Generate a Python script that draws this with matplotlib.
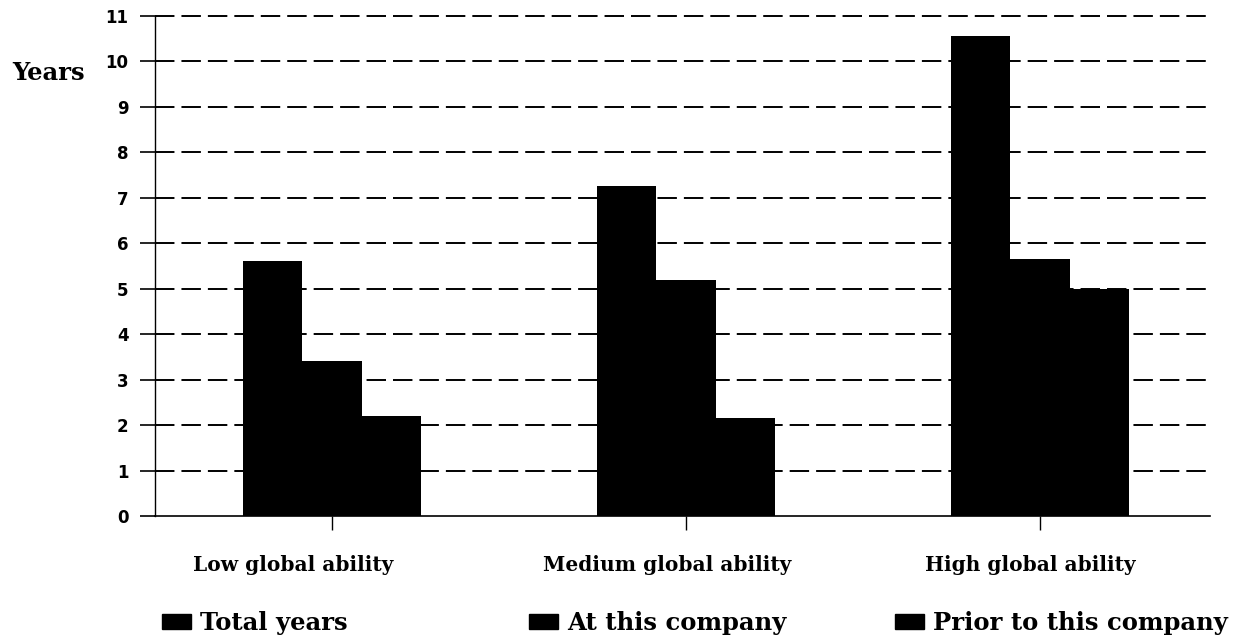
import matplotlib
matplotlib.use('Agg')
import matplotlib.pyplot as plt
from matplotlib.patches import Patch
from matplotlib.transforms import ScaledTranslation

# years of experience by global ability group
groups = ['Low global ability', 'Medium global ability', 'High global ability']
total_years = [5.6, 7.25, 10.55]
at_company = [3.4, 5.2, 5.65]
prior_company = [2.2, 2.15, 5.0]
series_names = ['Total years', 'At this company', 'Prior to this company']
y_ticks = list(range(0, 12))

serif = 'DejaVu Serif'
sans = 'DejaVu Sans'

fig = plt.figure(figsize=(12.46, 6.39), dpi=100)
ax = fig.add_axes([155 / 1246, 1 - 516 / 639, 1062 / 1246, 500 / 639])

bar_w = 0.168
x = range(len(groups))
for i, vals in enumerate([total_years, at_company, prior_company]):
    ax.bar([g + (i - 1) * bar_w for g in x], vals, width=bar_w,
           color='black', edgecolor='none', zorder=3)

ax.set_xlim(-0.5, len(groups) - 0.5)
ax.set_ylim(0, 11)

# dashed gridlines for every whole year
for t in y_ticks[1:]:
    ax.axhline(t, xmax=0.99, color='black', lw=1.4, dashes=(10, 3.6), zorder=1, clip_on=False)

ax.spines['top'].set_visible(False)
ax.spines['right'].set_visible(False)
ax.spines['left'].set_linewidth(1.0)
ax.spines['bottom'].set_linewidth(1.2)
ax.spines['bottom'].set_bounds(-0.5, 2.48)

ax.set_yticks(y_ticks)
ax.set_yticklabels([str(t) for t in y_ticks], fontfamily=sans, fontweight='bold', fontsize=12)
ax.tick_params(axis='y', length=11, width=1.2, direction='out', pad=8)

ax.set_xticks(list(x))
ax.set_xticklabels(groups, fontfamily=serif, fontweight='bold', fontsize=14.5)
ax.tick_params(axis='x', length=10, width=1.0, direction='out', pad=18)
# category labels sit a little left of their ticks
for lbl, dx in zip(ax.get_xticklabels(), [-39, -19, -10]):
    lbl.set_transform(lbl.get_transform() + ScaledTranslation(dx / 100, 0, fig.dpi_scale_trans))

fig.text(12 / 1246, 1 - 73 / 639, 'Years', fontfamily=serif, fontweight='bold',
         fontsize=17.5, ha='left', va='center')

# three separate legend entries spread across the bottom
legend_x = [162, 529, 895]
for name, lx in zip(series_names, legend_x):
    handle = Patch(facecolor='black', edgecolor='black')
    fig.legend(handles=[handle], labels=[name], loc='center left',
               bbox_to_anchor=(lx / 1246, 1 - 623 / 639), frameon=False,
               handlelength=1.2, handleheight=0.6, handletextpad=0.35,
               borderaxespad=0, borderpad=0,
               prop={'family': serif, 'weight': 'bold', 'size': 17.5})

fig.savefig('out.png', dpi=100)
